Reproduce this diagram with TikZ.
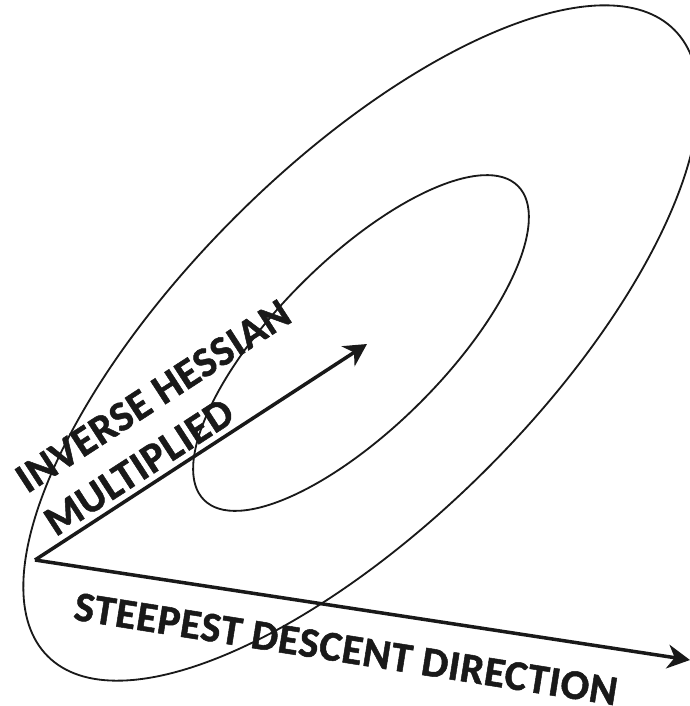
\documentclass[tikz,border=0pt]{standalone}
\usepackage{fontspec}
\setmainfont{Carlito}
\usetikzlibrary{arrows.meta}
\newfontfamily\labelfont{Carlito Bold}[LetterSpace=1.5, FakeBold=1.2]
\tikzset{
  contour/.style={line width=1.3pt, black!90},
  vec/.style={line width=2.5pt, black!90, -{Stealth[length=16pt,width=17pt,inset=5pt]}},
  lbl/.style={inner sep=0pt, font=\labelfont\fontsize{30}{35}\selectfont, text=black!90},
}
\begin{document}
\begin{tikzpicture}[x=0.025cm,y=-0.025cm]
\useasboundingbox (0,0) rectangle (690,706);
\clip (0,0) rectangle (690,706);
\coordinate (c) at (361,343);
\draw[contour, rotate around={45:(c)}] (c) ellipse [x radius=443, y radius=178];
\draw[contour, rotate around={45:(c)}] (c) ellipse [x radius=222, y radius=84];
\coordinate (o) at (35,560);
\coordinate (h) at (367,344);
\coordinate (s) at (690,660);
\draw[vec] (o) -- (h);
\draw[vec] (o) -- (s);
\node[lbl, rotate=33] (ih) at (153,396) {INVERSE HESSIAN};
\node[lbl, rotate=33] (mu) at (139,467) {MULTIPLIED};
\node[lbl, rotate=-9] (sd) at (346,649) {STEEPEST DESCENT DIRECTION};
\end{tikzpicture}
\end{document}
